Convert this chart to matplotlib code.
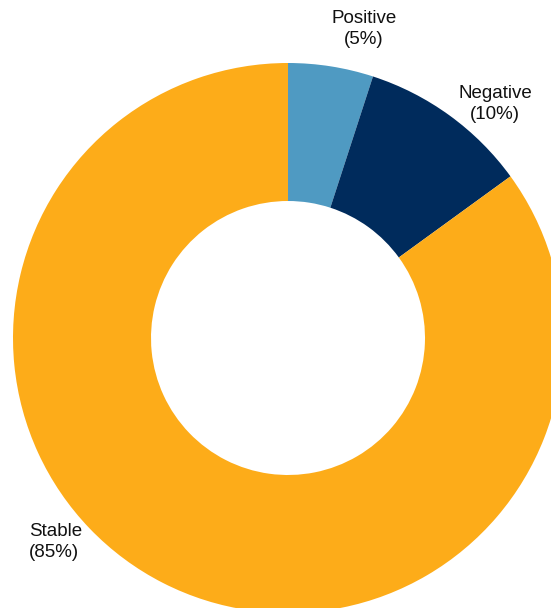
import matplotlib.pyplot as plt

labels = ['Positive', 'Negative', 'Stable']
shares = [5, 10, 85]
colors = ['#4F9AC2', '#002B5C', '#FDAC19']

W, H = 551, 608
fig = plt.figure(figsize=(W / 100, H / 100), dpi=100)
ax = fig.add_axes([0, 0, 1, 1])

cx, cy = 288, H - 338
r_out = 275
r_in = 137

# donut: slices go clockwise from 12 o'clock
ax.pie(shares, colors=colors, startangle=90, counterclock=False,
       center=(cx, cy), radius=r_out, frame=True,
       wedgeprops=dict(width=r_out - r_in, linewidth=0))
ax.set_xlim(0, W)
ax.set_ylim(0, H)
ax.axis('off')

font = dict(family=['Liberation Sans', 'DejaVu Sans'], fontsize=13.5, color='#111111',
            linespacing=1.25)
ax.text(364, H - 29, f'{labels[0]}\n({shares[0]}%)', ha='center', va='center', **font)
ax.text(495, H - 104, f'{labels[1]}\n({shares[1]}%)', ha='center', va='center', **font)
ax.text(29, H - 542, f'{labels[2]}\n({shares[2]}%)', ha='left', va='center', **font)

fig.savefig('out.png', dpi=100)
